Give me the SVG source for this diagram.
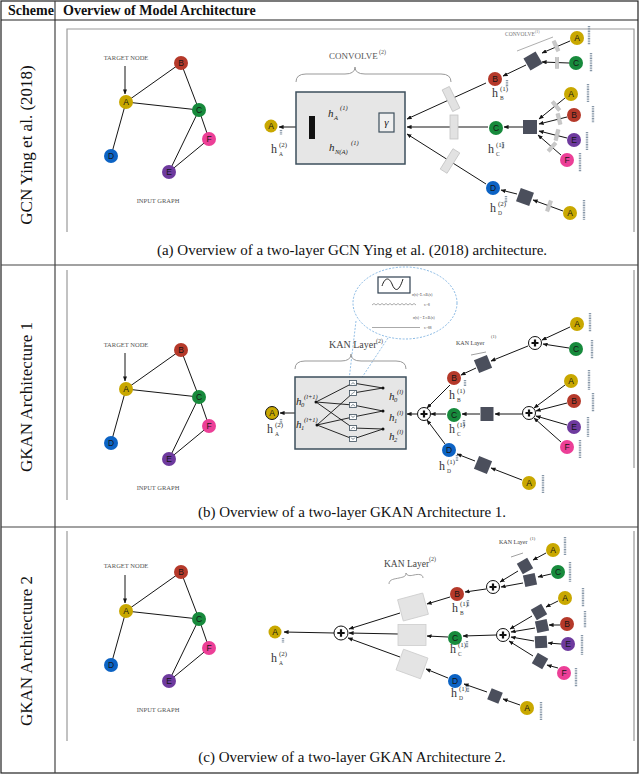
<svg xmlns="http://www.w3.org/2000/svg" width="640" height="775" viewBox="0 0 640 775">
<style>
.serif{font-family:"Liberation Serif","Times New Roman",serif}
.hd{font-family:"Liberation Serif",serif;font-weight:bold;font-size:14px;fill:#111}
.side{font-family:"Liberation Serif",serif;font-size:17px;fill:#111;text-anchor:middle}
.cap{font-family:"Liberation Serif",serif;font-size:15px;fill:#111;text-anchor:middle}
.tiny{font-family:"Liberation Serif",serif;font-size:6.5px;fill:#555;text-anchor:middle}
.nt{font-family:"Liberation Sans",Arial,sans-serif;font-size:8.5px;fill:#151515;text-anchor:middle}
.e{stroke:#151515;stroke-width:1;fill:none}
.a{stroke:#151515;stroke-width:1;fill:none;marker-end:url(#ah)}
.cA{fill:#c9a800}.cB{fill:#b5392a}.cC{fill:#178a3c}.cD{fill:#0c63c4}.cE{fill:#6e3a9e}.cF{fill:#ec3f97}
.vec{stroke:#8797a8;stroke-width:2.4;stroke-dasharray:1 0.7}
.sq{fill:#4b4f5c}
.wt{fill:#c9c9c9;stroke:#b0b0b0;stroke-width:0.4}
.wtb{fill:#e2e2e2;stroke:#c4c4c4;stroke-width:0.8}
.gbox{fill:#e4e4e4;stroke:#cdcdcd;stroke-width:0.8}
.h{font-family:"Liberation Serif",serif;font-size:12px;fill:#333}
.hs{font-family:"Liberation Serif",serif;font-size:7px;fill:#333}
.hb{font-family:"Liberation Serif",serif;font-size:5.5px;fill:#333}
.hi{font-family:"Liberation Serif",serif;font-style:italic;font-size:11px;fill:#222}
.his{font-family:"Liberation Serif",serif;font-style:italic;font-size:6.5px;fill:#222}
.brace{stroke:#999;stroke-width:1;fill:none}
.frame{stroke:#9a9a9a;stroke-width:1.2;fill:none}
.plus circle{fill:#fff;stroke:#111;stroke-width:1}
.plus path{stroke:#111;stroke-width:2.2}
.kb{fill:#fff;stroke:#3d4f5c;stroke-width:0.8}
</style>
<defs>
<marker id="ah" viewBox="0 0 6 5" refX="5.5" refY="2.5" markerWidth="5" markerHeight="4.2" orient="auto" markerUnits="userSpaceOnUse"><path d="M0,0 L6,2.5 L0,5 z" fill="#151515"/></marker>
</defs>

<g id="table">
<rect x="1" y="1" width="637" height="772" fill="#fff" stroke="#222" stroke-width="1.2"/>
<line x1="55" y1="1" x2="55" y2="773" stroke="#444" stroke-width="1.2"/>
<line x1="1" y1="20" x2="638" y2="20" stroke="#222" stroke-width="1.2"/>
<line x1="1" y1="265" x2="638" y2="265" stroke="#444" stroke-width="1.2"/>
<line x1="1" y1="527" x2="638" y2="527" stroke="#444" stroke-width="1.2"/>
<text class="hd" x="8" y="15">Scheme</text>
<text class="hd" x="63" y="15">Overview of Model Architecture</text>
<text class="side" transform="translate(32,145) rotate(-90)">GCN Ying et al. (2018)</text>
<text class="side" transform="translate(32,397) rotate(-90)">GKAN Architecture 1</text>
<text class="side" transform="translate(32,651) rotate(-90)">GKAN Architecture 2</text>
<path class="frame" d="M67,232 V29 H634 V232"/>
<path class="frame" d="M67,500 V270 M634,270 V468"/>
<path class="frame" d="M67,741 V531 M634,531 V741"/>
<text class="cap" x="352" y="255">(a) Overview of a two-layer GCN Ying et al. (2018) architecture.</text>
<text class="cap" x="352" y="517">(b) Overview of a two-layer GKAN Architecture 1.</text>
<text class="cap" x="352" y="762">(c) Overview of a two-layer GKAN Architecture 2.</text>
</g>

<g id="connectors">
<g id="ig1-edges">
<line class="e" x1="126" y1="102" x2="181" y2="63"/><line class="e" x1="126" y1="102" x2="199" y2="110"/><line class="e" x1="126" y1="102" x2="111" y2="156"/><line class="e" x1="181" y1="63" x2="199" y2="110"/><line class="e" x1="199" y1="110" x2="209" y2="139"/><line class="e" x1="199" y1="110" x2="169" y2="172"/><line class="e" x1="169" y1="172" x2="209" y2="139"/>
<line class="a" x1="125" y1="66" x2="125" y2="94"/>
</g>
<g id="ig2-edges" transform="translate(0,287)">
<line class="e" x1="126" y1="102" x2="181" y2="63"/><line class="e" x1="126" y1="102" x2="199" y2="110"/><line class="e" x1="126" y1="102" x2="111" y2="156"/><line class="e" x1="181" y1="63" x2="199" y2="110"/><line class="e" x1="199" y1="110" x2="209" y2="139"/><line class="e" x1="199" y1="110" x2="169" y2="172"/><line class="e" x1="169" y1="172" x2="209" y2="139"/>
<line class="a" x1="125" y1="66" x2="125" y2="94"/>
</g>
<g id="ig3-edges" transform="translate(0,509)">
<line class="e" x1="126" y1="102" x2="181" y2="63"/><line class="e" x1="126" y1="102" x2="199" y2="110"/><line class="e" x1="126" y1="102" x2="111" y2="156"/><line class="e" x1="181" y1="63" x2="199" y2="110"/><line class="e" x1="199" y1="110" x2="209" y2="139"/><line class="e" x1="199" y1="110" x2="169" y2="172"/><line class="e" x1="169" y1="172" x2="209" y2="139"/>
<line class="a" x1="125" y1="66" x2="125" y2="94"/>
</g>

<line class="a" x1="307" y1="127" x2="279" y2="127"/>
<line class="a" x1="324" y1="112" x2="317" y2="120"/>
<line class="a" x1="327" y1="142" x2="318" y2="134"/>
<line class="a" x1="376" y1="128" x2="365" y2="136"/>
<line class="a" x1="486" y1="83" x2="407" y2="119"/>
<line class="a" x1="488" y1="127" x2="407" y2="127"/>
<line class="a" x1="486" y1="184" x2="407" y2="134"/>
<line class="a" x1="570" y1="41" x2="542" y2="53"/>
<line class="a" x1="569" y1="63" x2="542" y2="62"/>
<line class="a" x1="526" y1="65" x2="503" y2="76"/>
<line class="a" x1="565" y1="98" x2="539" y2="119"/>
<line class="a" x1="567" y1="117" x2="539" y2="124"/>
<line class="a" x1="567" y1="138" x2="539" y2="131"/>
<line class="a" x1="561" y1="155" x2="538" y2="135"/>
<line class="a" x1="523" y1="127" x2="504" y2="127"/>
<line class="a" x1="563" y1="211" x2="533" y2="200"/>
<line class="a" x1="517" y1="194" x2="501" y2="190"/>

<line class="a" x1="295" y1="413" x2="280" y2="413"/>
<line class="a" x1="417" y1="414" x2="407" y2="414"/>
<line class="a" x1="450" y1="385" x2="427" y2="408"/>
<line class="a" x1="446" y1="414" x2="431" y2="414"/>
<line class="a" x1="445" y1="444" x2="427" y2="420"/>
<line class="a" x1="570" y1="327" x2="542" y2="340"/>
<line class="a" x1="569" y1="348" x2="543" y2="344"/>
<line class="a" x1="528" y1="346" x2="491" y2="361"/>
<line class="a" x1="476" y1="368" x2="461" y2="375"/>
<line class="a" x1="565" y1="385" x2="534" y2="408"/>
<line class="a" x1="567" y1="403" x2="536" y2="411"/>
<line class="a" x1="567" y1="425" x2="536" y2="416"/>
<line class="a" x1="561" y1="442" x2="534" y2="418"/>
<line class="a" x1="522" y1="414" x2="495" y2="414"/>
<line class="a" x1="480" y1="414" x2="462" y2="414"/>
<line class="a" x1="522" y1="480" x2="491" y2="468"/>
<line class="a" x1="475" y1="461" x2="457" y2="454"/>

<line class="a" x1="334" y1="633" x2="284" y2="632"/>
<line class="a" x1="400" y1="613" x2="349" y2="629"/>
<line class="a" x1="398" y1="634" x2="349" y2="633"/>
<line class="a" x1="400" y1="657" x2="348" y2="638"/>
<line class="a" x1="450" y1="597" x2="427" y2="604"/>
<line class="a" x1="448" y1="637" x2="427" y2="636"/>
<line class="a" x1="448" y1="678" x2="426" y2="669"/>
<line class="a" x1="546" y1="553" x2="533" y2="560"/>
<line class="a" x1="551" y1="574" x2="538" y2="577"/>
<line class="a" x1="518" y1="571" x2="500" y2="582"/>
<line class="a" x1="523" y1="583" x2="501" y2="587"/>
<line class="a" x1="486" y1="589" x2="465" y2="592"/>
<line class="a" x1="558" y1="601" x2="546" y2="607"/>
<line class="a" x1="560" y1="625" x2="549" y2="625"/>
<line class="a" x1="561" y1="644" x2="548" y2="643"/>
<line class="a" x1="558" y1="668" x2="547" y2="665"/>
<line class="a" x1="532" y1="616" x2="510" y2="629"/>
<line class="a" x1="535" y1="628" x2="511" y2="632"/>
<line class="a" x1="534" y1="641" x2="511" y2="637"/>
<line class="a" x1="533" y1="656" x2="509" y2="641"/>
<line class="a" x1="496" y1="635" x2="463" y2="636"/>
<line class="a" x1="520" y1="705" x2="503" y2="699"/>
<line class="a" x1="487" y1="692" x2="464" y2="684"/>
</g>

<g id="r1-input">
<text class="tiny" x="126" y="60">TARGET NODE</text>
<text class="tiny" x="158" y="203">INPUT GRAPH</text>
</g>
<g id="r1-gA"><circle class="cA" cx="126" cy="102" r="7"/><text class="nt" x="126" y="105">A</text></g>
<g id="r1-gB"><circle class="cB" cx="181" cy="63" r="7"/><text class="nt" x="181" y="66">B</text></g>
<g id="r1-gC"><circle class="cC" cx="199" cy="110" r="7"/><text class="nt" x="199" y="113">C</text></g>
<g id="r1-gF"><circle class="cF" cx="209" cy="139" r="7"/><text class="nt" x="209" y="142">F</text></g>
<g id="r1-gE"><circle class="cE" cx="169" cy="172" r="7"/><text class="nt" x="169" y="175">E</text></g>
<g id="r1-gD"><circle class="cD" cx="111" cy="156" r="7"/><text class="nt" x="111" y="159">D</text></g>

<g id="r1-convolve2">
<text class="serif" x="329" y="59" font-size="9" fill="#555">CONVOLVE</text>
<text class="serif" x="379" y="54" font-size="6" fill="#555">(2)</text>
<path class="brace" d="M296,82 Q296,74 306,74 L345,74 Q355,74 355,67 Q355,74 365,74 L441,74 Q451,74 451,82"/>
<rect x="296" y="92" width="109" height="72" fill="#e6e6e6" stroke="#3d4f5c" stroke-width="1.5"/>
<rect x="309" y="116" width="6" height="23" fill="#111"/>
<text class="hi" x="328" y="117">h</text><text class="his" x="334" y="120">A</text><text class="his" x="340" y="110">(1)</text>
<text class="hi" x="329" y="151">h</text><text class="his" x="335" y="154">N(A)</text><text class="his" x="351" y="145">(1)</text>
<rect x="379" y="113" width="15" height="19" fill="#f0f0f0" stroke="#3d4f5c" stroke-width="1.2"/>
<text class="hi" x="386.5" y="126" text-anchor="middle">γ</text>
</g>
<g id="r1-weights">
<rect class="wtb" x="-4" y="-12" width="8" height="24" transform="translate(451,99) rotate(-26)"/>
<rect class="wtb" x="-4" y="-12" width="8" height="24" transform="translate(454,127)"/>
<rect class="wtb" x="-4" y="-12" width="8" height="24" transform="translate(450,161) rotate(32)"/>
<rect class="wt" x="-1.8" y="-5.5" width="3.6" height="11" transform="translate(556,46) rotate(-25)"/>
<rect class="wt" x="-1.8" y="-5.5" width="3.6" height="11" transform="translate(557,63)"/>
<rect class="wt" x="-1.8" y="-5.5" width="3.6" height="11" transform="translate(556,106) rotate(-39)"/>
<rect class="wt" x="-1.8" y="-5.5" width="3.6" height="11" transform="translate(559,119) rotate(-14)"/>
<rect class="wt" x="-1.8" y="-5.5" width="3.6" height="11" transform="translate(557,135) rotate(14)"/>
<rect class="wt" x="-1.8" y="-5.5" width="3.6" height="11" transform="translate(552,147) rotate(42)"/>
<rect class="wt" x="-1.8" y="-5.5" width="3.6" height="11" transform="translate(549,206) rotate(20)"/>
</g>
<g id="r1-convolve1">
<text class="serif" x="505" y="36" font-size="5.5" fill="#777">CONVOLVE</text>
<text class="serif" x="535" y="33" font-size="4" fill="#777">(1)</text>
<line x1="517" y1="51" x2="553" y2="37" stroke="#999" stroke-width="0.8"/>
<rect class="sq" x="-7" y="-7" width="14" height="14" transform="translate(533,61) rotate(-30)"/>
<rect class="sq" x="-7" y="-7" width="14" height="14" transform="translate(530,127)"/>
<rect class="sq" x="-7" y="-7" width="14" height="14" transform="translate(525,197) rotate(20)"/>
</g>
<g id="r1-A2"><circle class="cA" cx="271" cy="126" r="6.5"/><text class="nt" x="271" y="129">A</text><line class="vec" x1="281" y1="130" x2="281" y2="135"/>
<text class="h" x="271" y="153">h</text><text class="hs" x="279" y="147">(2)</text><text class="hb" x="279" y="156">A</text></g>
<g id="r1-B1"><circle class="cB" cx="495" cy="79" r="7"/><text class="nt" x="495" y="82">B</text><line class="vec" x1="507" y1="80" x2="507" y2="87"/>
<text class="h" x="492" y="97">h</text><text class="hs" x="500" y="91">(1)</text><text class="hb" x="500" y="100">B</text></g>
<g id="r1-C1"><circle class="cC" cx="496" cy="128" r="7"/><text class="nt" x="496" y="131">C</text><line class="vec" x1="503" y1="142" x2="503" y2="149"/>
<text class="h" x="488" y="153">h</text><text class="hs" x="496" y="147">(1)</text><text class="hb" x="496" y="156">C</text></g>
<g id="r1-D1"><circle class="cD" cx="493" cy="188" r="7"/><text class="nt" x="493" y="191">D</text><line class="vec" x1="506" y1="196" x2="506" y2="203"/>
<text class="h" x="490" y="212">h</text><text class="hs" x="498" y="206">(2)</text><text class="hb" x="498" y="215">D</text></g>
<g id="r1-nA1"><circle class="cA" cx="577" cy="38" r="7"/><text class="nt" x="577" y="41">A</text><line class="vec" x1="589" y1="26" x2="589" y2="45"/></g>
<g id="r1-nC1"><circle class="cC" cx="576" cy="63" r="7"/><text class="nt" x="576" y="66">C</text><line class="vec" x1="591" y1="53" x2="591" y2="72"/></g>
<g id="r1-nA2"><circle class="cA" cx="571" cy="94" r="7"/><text class="nt" x="571" y="97">A</text><line class="vec" x1="588" y1="84" x2="588" y2="102"/></g>
<g id="r1-nB2"><circle class="cB" cx="574" cy="115" r="7"/><text class="nt" x="574" y="118">B</text><line class="vec" x1="593" y1="106" x2="593" y2="123"/></g>
<g id="r1-nE2"><circle class="cE" cx="574" cy="140" r="7"/><text class="nt" x="574" y="143">E</text><line class="vec" x1="587" y1="132" x2="587" y2="150"/></g>
<g id="r1-nF2"><circle class="cF" cx="567" cy="160" r="7"/><text class="nt" x="567" y="163">F</text><line class="vec" x1="580" y1="153" x2="580" y2="172"/></g>
<g id="r1-nA3"><circle class="cA" cx="570" cy="213" r="7"/><text class="nt" x="570" y="216">A</text><line class="vec" x1="584" y1="200" x2="584" y2="220"/></g>

<g id="r2-input">
<text class="tiny" x="126" y="347">TARGET NODE</text>
<text class="tiny" x="158" y="490">INPUT GRAPH</text>
</g>
<g id="r2-gA"><circle class="cA" cx="126" cy="389" r="7"/><text class="nt" x="126" y="392">A</text></g>
<g id="r2-gB"><circle class="cB" cx="181" cy="350" r="7"/><text class="nt" x="181" y="353">B</text></g>
<g id="r2-gC"><circle class="cC" cx="199" cy="397" r="7"/><text class="nt" x="199" y="400">C</text></g>
<g id="r2-gF"><circle class="cF" cx="209" cy="426" r="7"/><text class="nt" x="209" y="429">F</text></g>
<g id="r2-gE"><circle class="cE" cx="169" cy="459" r="7"/><text class="nt" x="169" y="462">E</text></g>
<g id="r2-gD"><circle class="cD" cx="111" cy="443" r="7"/><text class="nt" x="111" y="446">D</text></g>

<g id="r2-zoom">
<ellipse cx="405" cy="303" rx="52" ry="36" fill="none" stroke="#7ab0e0" stroke-width="0.9" stroke-dasharray="2 1.5"/>
<line x1="356" y1="321" x2="349" y2="380" stroke="#7ab0e0" stroke-width="0.8" stroke-dasharray="2 1.5"/>
<line x1="388" y1="338" x2="359" y2="382" stroke="#7ab0e0" stroke-width="0.8" stroke-dasharray="2 1.5"/>
<ellipse cx="353" cy="383" rx="6.5" ry="4.5" fill="none" stroke="#7ab0e0" stroke-width="0.8" stroke-dasharray="1.5 1"/>
<rect x="378" y="277" width="32" height="16" fill="#fff" stroke="#2f4050" stroke-width="1.2"/>
<path d="M382,286 C385,277 389,277 392,284 C395,292 399,292 403,279" fill="none" stroke="#222" stroke-width="1"/>
<text class="serif" x="412" y="296" font-size="3.5" fill="#444">σ(x)=Σᵢ cᵢBᵢ(x)</text>
<path d="M372,305 l2,-1.5 l2,1.5 l2,-1.5 l2,1.5 l2,-1.5 l2,1.5 l2,-1.5 l2,1.5 l2,-1.5 l2,1.5 l2,-1.5 l2,1.5 l2,-1.5 l2,1.5 l2,-1.5 l2,1.5 l2,-1.5 l2,1.5 l2,-1.5 l2,1.5 l2,-1.5 l2,1.5" fill="none" stroke="#555" stroke-width="0.5"/>
<text class="serif" x="424" y="306" font-size="3.5" fill="#444">cᵢ=8</text>
<text class="serif" x="413" y="319" font-size="3.5" fill="#444">σ(x) = Σ cᵢBᵢ(x)</text>
<path d="M372,328 l1,-1 l1,1 l1,-1 l1,1 l1,-1 l1,1 l1,-1 l1,1 l1,-1 l1,1 l1,-1 l1,1 l1,-1 l1,1 l1,-1 l1,1 l1,-1 l1,1 l1,-1 l1,1 l1,-1 l1,1 l1,-1 l1,1 l1,-1 l1,1 l1,-1 l1,1 l1,-1 l1,1 l1,-1 l1,1 l1,-1 l1,1 l1,-1 l1,1 l1,-1 l1,1 l1,-1 l1,1 l1,-1 l1,1 l1,-1 l1,1 l1,-1 l1,1 l1,-1 l1,1" fill="none" stroke="#555" stroke-width="0.5"/>
<text class="serif" x="424" y="329" font-size="3.5" fill="#444">cᵢ=88</text>
</g>
<g id="r2-kan2">
<text class="serif" x="329" y="348" font-size="10" fill="#444">KAN Layer</text>
<text class="serif" x="376" y="343" font-size="6" fill="#444">(2)</text>
<path class="brace" d="M295,369 Q295,361 305,361 L341,361 Q351,361 351,354 Q351,361 361,361 L396,361 Q406,361 406,369"/>
<rect x="295" y="377" width="111" height="72" fill="#e6e6e6" stroke="#3d4f5c" stroke-width="1.5"/>
<g stroke="#111" stroke-width="0.9">
<line x1="316" y1="402" x2="353" y2="383"/><line x1="316" y1="402" x2="353" y2="405"/><line x1="316" y1="402" x2="353" y2="428"/>
<line x1="317" y1="425" x2="353" y2="393"/><line x1="317" y1="425" x2="353" y2="417"/><line x1="317" y1="425" x2="353" y2="439"/>
<line x1="353" y1="383" x2="383" y2="388"/><line x1="353" y1="393" x2="383" y2="388"/>
<line x1="353" y1="405" x2="383" y2="411"/><line x1="353" y1="417" x2="383" y2="411"/>
<line x1="353" y1="428" x2="383" y2="429"/><line x1="353" y1="439" x2="383" y2="429"/>
</g>
<g fill="#111"><circle cx="316" cy="402" r="1.5"/><circle cx="317" cy="425" r="1.5"/><circle cx="383" cy="388" r="1.5"/><circle cx="383" cy="411" r="1.5"/><circle cx="383" cy="429" r="1.5"/></g>
<rect class="kb" x="349.5" y="380.5" width="7" height="5"/><rect class="kb" x="349.5" y="390.5" width="7" height="5"/><rect class="kb" x="349.5" y="402.5" width="7" height="5"/><rect class="kb" x="349.5" y="414.5" width="7" height="5"/><rect class="kb" x="349.5" y="425.5" width="7" height="5"/><rect class="kb" x="349.5" y="436.5" width="7" height="5"/>
<g fill="none" stroke="#3d4f5c" stroke-width="0.6">
<path d="M351,384.5 Q353,381 355,384.5"/><path d="M351,394.5 L355,391.5"/><path d="M351,406.5 Q353,402.5 355,406.5"/><path d="M351,415.5 Q353,419 355,415.5"/><path d="M351,429.5 L353,427 L355,428.5"/><path d="M351,437.5 Q353,441 355,437.5"/>
</g>
<text class="hi" x="296" y="405" font-size="9">h</text><text class="his" x="301" y="407" font-size="5">0</text><text class="his" x="304" y="399" font-size="5">(l+1)</text>
<text class="hi" x="296" y="428" font-size="9">h</text><text class="his" x="301" y="430" font-size="5">1</text><text class="his" x="304" y="422" font-size="5">(l+1)</text>
<text class="hi" x="389" y="400" font-size="9">h</text><text class="his" x="394" y="402" font-size="5">0</text><text class="his" x="397" y="394" font-size="5">(l)</text>
<text class="hi" x="389" y="421" font-size="9">h</text><text class="his" x="394" y="423" font-size="5">1</text><text class="his" x="397" y="415" font-size="5">(l)</text>
<text class="hi" x="389" y="440" font-size="9">h</text><text class="his" x="394" y="442" font-size="5">2</text><text class="his" x="397" y="434" font-size="5">(l)</text>
</g>
<g id="r2-plus1" class="plus"><circle cx="424" cy="414" r="6.5"/><path d="M420.5,414 H427.5 M424,410.5 V417.5"/></g>
<g id="r2-plus2" class="plus"><circle cx="535" cy="343" r="6.5"/><path d="M531.5,343 H538.5 M535,339.5 V346.5"/></g>
<g id="r2-plus3" class="plus"><circle cx="529" cy="413" r="6.5"/><path d="M525.5,413 H532.5 M529,409.5 V416.5"/></g>
<g id="r2-kan1">
<text class="serif" x="456" y="345" font-size="6" fill="#444">KAN Layer</text>
<text class="serif" x="491" y="338" font-size="4.5" fill="#444">(1)</text>
<line x1="471" y1="355" x2="486" y2="352" stroke="#888" stroke-width="0.8"/>
<rect class="sq" x="-7" y="-7" width="14" height="14" transform="translate(483,364) rotate(-22)"/>
<rect class="sq" x="-6.5" y="-7" width="13" height="14" transform="translate(487,414)"/>
<rect class="sq" x="-7" y="-7" width="14" height="14" transform="translate(483,465) rotate(22)"/>
</g>
<g id="r2-A2"><circle class="cA" cx="272" cy="413" r="6.5" stroke="#111" stroke-width="1"/><text class="nt" x="272" y="416">A</text><line class="vec" x1="281" y1="419" x2="281" y2="424"/>
<text class="h" x="267" y="433">h</text><text class="hs" x="275" y="427">(2)</text><text class="hb" x="275" y="436">A</text></g>
<g id="r2-B1"><circle class="cB" cx="454" cy="378" r="7"/><text class="nt" x="454" y="381">B</text><line class="vec" x1="465" y1="380" x2="465" y2="386"/>
<text class="h" x="449" y="399">h</text><text class="hs" x="457" y="393">(1)</text><text class="hb" x="457" y="402">B</text></g>
<g id="r2-C1"><circle class="cC" cx="454" cy="415" r="7"/><text class="nt" x="454" y="418">C</text><line class="vec" x1="464" y1="420" x2="464" y2="426"/>
<text class="h" x="449" y="433">h</text><text class="hs" x="457" y="427">(1)</text><text class="hb" x="457" y="436">C</text></g>
<g id="r2-D1"><circle class="cD" cx="449" cy="450" r="7"/><text class="nt" x="449" y="453">D</text><line class="vec" x1="457" y1="455" x2="457" y2="461"/>
<text class="h" x="439" y="470">h</text><text class="hs" x="447" y="464">(1)</text><text class="hb" x="447" y="473">D</text></g>
<g id="r2-nA1"><circle class="cA" cx="577" cy="324" r="7"/><text class="nt" x="577" y="327">A</text><line class="vec" x1="590" y1="313" x2="590" y2="332"/></g>
<g id="r2-nC1"><circle class="cC" cx="576" cy="349" r="7"/><text class="nt" x="576" y="352">C</text><line class="vec" x1="592" y1="340" x2="592" y2="359"/></g>
<g id="r2-nA2"><circle class="cA" cx="571" cy="381" r="7"/><text class="nt" x="571" y="384">A</text><line class="vec" x1="589" y1="370" x2="589" y2="390"/></g>
<g id="r2-nB2"><circle class="cB" cx="574" cy="401" r="7"/><text class="nt" x="574" y="404">B</text><line class="vec" x1="593" y1="393" x2="593" y2="412"/></g>
<g id="r2-nE2"><circle class="cE" cx="574" cy="427" r="7"/><text class="nt" x="574" y="430">E</text><line class="vec" x1="588" y1="417" x2="588" y2="437"/></g>
<g id="r2-nF2"><circle class="cF" cx="567" cy="447" r="7"/><text class="nt" x="567" y="450">F</text><line class="vec" x1="580" y1="440" x2="580" y2="458"/></g>
<g id="r2-nA3"><circle class="cA" cx="529" cy="483" r="7"/><text class="nt" x="529" y="486">A</text><line class="vec" x1="543" y1="475" x2="543" y2="493"/></g>

<g id="r3-input">
<text class="tiny" x="126" y="568">TARGET NODE</text>
<text class="tiny" x="158" y="712">INPUT GRAPH</text>
</g>
<g id="r3-gA"><circle class="cA" cx="126" cy="611" r="7"/><text class="nt" x="126" y="614">A</text></g>
<g id="r3-gB"><circle class="cB" cx="181" cy="572" r="7"/><text class="nt" x="181" y="575">B</text></g>
<g id="r3-gC"><circle class="cC" cx="199" cy="619" r="7"/><text class="nt" x="199" y="622">C</text></g>
<g id="r3-gF"><circle class="cF" cx="209" cy="648" r="7"/><text class="nt" x="209" y="651">F</text></g>
<g id="r3-gE"><circle class="cE" cx="169" cy="681" r="7"/><text class="nt" x="169" y="684">E</text></g>
<g id="r3-gD"><circle class="cD" cx="111" cy="665" r="7"/><text class="nt" x="111" y="668">D</text></g>

<g id="r3-kan2">
<text class="serif" x="384" y="567" font-size="9.5" fill="#444">KAN Layer</text>
<text class="serif" x="429" y="561" font-size="6" fill="#444">(2)</text>
<path d="M389,584 C389,579 395,579 399,578 C403,577 406,577 406,573 C407,576 410,576 414,575 C418,574 423,574 423,578" stroke="#888" stroke-width="0.8" fill="none"/>
<rect class="gbox" x="-13" y="-11" width="26" height="22" transform="translate(413,607) rotate(-15)"/>
<rect class="gbox" x="-14" y="-10.5" width="28" height="21" transform="translate(412,635)"/>
<rect class="gbox" x="-13" y="-11" width="26" height="22" transform="translate(412,664) rotate(20)"/>
</g>
<g id="r3-plus1" class="plus"><circle cx="341" cy="633" r="7"/><path d="M337.3,633 H344.7 M341,629.3 V636.7"/></g>
<g id="r3-plus2" class="plus"><circle cx="493" cy="587" r="6.5"/><path d="M489.5,587 H496.5 M493,583.5 V590.5"/></g>
<g id="r3-plus3" class="plus"><circle cx="503" cy="635" r="6.5"/><path d="M499.5,635 H506.5 M503,631.5 V638.5"/></g>
<g id="r3-kan1">
<text class="serif" x="499" y="544" font-size="6" fill="#444">KAN Layer</text>
<text class="serif" x="530" y="540" font-size="4.5" fill="#444">(1)</text>
<line x1="511" y1="557" x2="523" y2="553" stroke="#888" stroke-width="0.8"/>
<rect class="sq" x="-6" y="-6" width="12" height="12" transform="translate(525,566) rotate(-30)"/>
<rect class="sq" x="-6" y="-6" width="12" height="12" transform="translate(530,580) rotate(-12)"/>
<rect class="sq" x="-6" y="-6" width="12" height="12" transform="translate(539,612) rotate(-30)"/>
<rect class="sq" x="-6" y="-6" width="12" height="12" transform="translate(542,626) rotate(-12)"/>
<rect class="sq" x="-6" y="-6" width="12" height="12" transform="translate(541,642) rotate(-3)"/>
<rect class="sq" x="-6" y="-6" width="12" height="12" transform="translate(540,661) rotate(30)"/>
<rect class="sq" x="-6" y="-6" width="12" height="12" transform="translate(495,696) rotate(22)"/>
</g>
<g id="r3-A2"><circle class="cA" cx="275" cy="632" r="6.5"/><text class="nt" x="275" y="635">A</text><line class="vec" x1="283" y1="638" x2="283" y2="643"/>
<text class="h" x="271" y="662">h</text><text class="hs" x="279" y="656">(2)</text><text class="hb" x="279" y="665">A</text></g>
<g id="r3-B1"><circle class="cB" cx="457" cy="594" r="7"/><text class="nt" x="457" y="597">B</text><line class="vec" x1="468" y1="600" x2="468" y2="607"/>
<text class="h" x="452" y="612">h</text><text class="hs" x="460" y="606">(1)</text><text class="hb" x="460" y="615">B</text></g>
<g id="r3-C1"><circle class="cC" cx="455" cy="638" r="7"/><text class="nt" x="455" y="641">C</text><line class="vec" x1="467" y1="641" x2="467" y2="648"/>
<text class="h" x="450" y="653">h</text><text class="hs" x="458" y="647">(1)</text><text class="hb" x="458" y="656">C</text></g>
<g id="r3-D1"><circle class="cD" cx="455" cy="681" r="7"/><text class="nt" x="455" y="684">D</text><line class="vec" x1="468" y1="686" x2="468" y2="692"/>
<text class="h" x="451" y="697">h</text><text class="hs" x="459" y="691">(1)</text><text class="hb" x="459" y="700">D</text></g>
<g id="r3-nA1"><circle class="cA" cx="553" cy="550" r="7"/><text class="nt" x="553" y="553">A</text><line class="vec" x1="565" y1="537" x2="565" y2="555"/></g>
<g id="r3-nC1"><circle class="cC" cx="558" cy="572" r="7"/><text class="nt" x="558" y="575">C</text><line class="vec" x1="570" y1="562" x2="570" y2="582"/></g>
<g id="r3-nA2"><circle class="cA" cx="565" cy="598" r="7"/><text class="nt" x="565" y="601">A</text><line class="vec" x1="583" y1="588" x2="583" y2="607"/></g>
<g id="r3-nB2"><circle class="cB" cx="567" cy="624" r="7"/><text class="nt" x="567" y="627">B</text><line class="vec" x1="585" y1="611" x2="585" y2="628"/></g>
<g id="r3-nE2"><circle class="cE" cx="568" cy="644" r="7"/><text class="nt" x="568" y="647">E</text><line class="vec" x1="582" y1="635" x2="582" y2="655"/></g>
<g id="r3-nF2"><circle class="cF" cx="564" cy="673" r="7"/><text class="nt" x="564" y="676">F</text><line class="vec" x1="576" y1="668" x2="576" y2="687"/></g>
<g id="r3-nA3"><circle class="cA" cx="527" cy="708" r="7"/><text class="nt" x="527" y="711">A</text><line class="vec" x1="541" y1="702" x2="541" y2="720"/></g>
</svg>
